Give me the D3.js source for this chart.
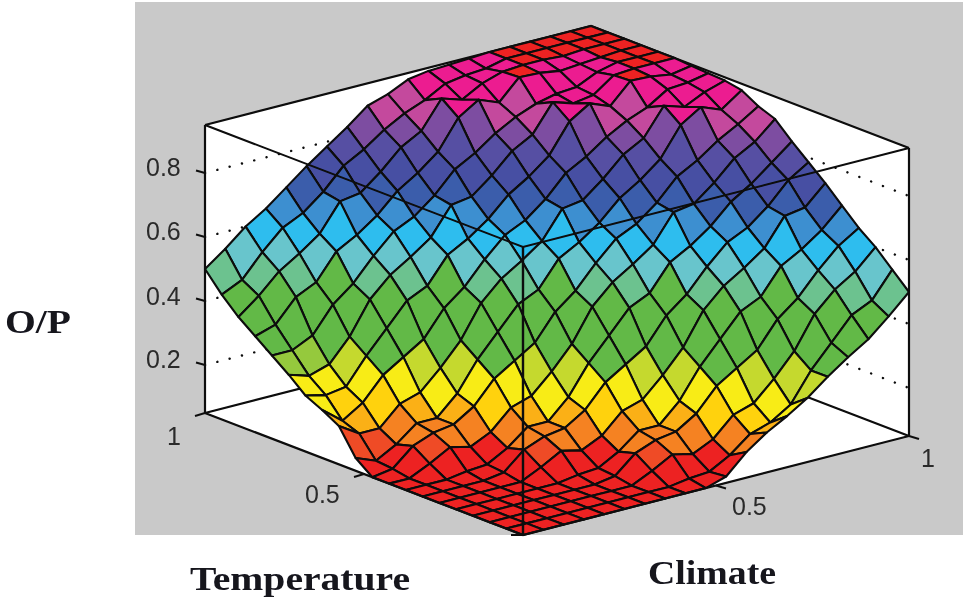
<!DOCTYPE html>
<html><head><meta charset="utf-8">
<script src="https://cdn.jsdelivr.net/npm/d3@7"></script>
<style>html,body{margin:0;background:#fff}svg{display:block}</style></head>
<body><svg id="c" width="965" height="599"><defs><filter id="soft" x="0" y="0" width="100%" height="100%"><feGaussianBlur stdDeviation="0.4"/></filter></defs></svg>
<script>
const gridCount = 20;
const zTicks = [0.2, 0.4, 0.6, 0.8];
const tTicks = [0.5, 1];
const cTicks = [0.5, 1];
const bandLimits = [.105,.125,.15,.18,.195,.245,.285,.30,.48,.525,.575,.615,.665,.71,.76,.81,.85,.86,.895,.9465];
const bandColors = ["#ed2024","#ef4b25","#f58220","#fbb017","#ffd20a","#f8ec17","#c5d92e","#95c93d","#62b947","#6cc28f","#67c5cc","#2fbdee","#3e8fd0","#3b5dab","#4650a3","#5750a3","#7d4ea1","#a04ea0","#c4489d","#ec1a90","#ed2024"];
const surfaceZ = [
[.05,.05,.05,.05,.05,.05,.05,.05,.05,.05,.07,.13,.175,.21,.25,.30,.345,.385,.44,.5],
[.05,.05,.05,.05,.05,.05,.05,.05,.05,.06,.065,.10,.15,.17,.21,.30,.37,.44,.47,.55],
[.05,.05,.05,.05,.05,.05,.05,.05,.08,.115,.10,.13,.19,.21,.27,.34,.44,.50,.54,.6],
[.05,.05,.05,.05,.05,.05,.05,.06,.115,.14,.15,.19,.26,.30,.34,.42,.47,.54,.60,.64],
[.05,.05,.05,.05,.05,.05,.06,.065,.10,.15,.15,.21,.30,.37,.44,.47,.55,.585,.63,.69],
[.05,.05,.05,.05,.05,.08,.115,.10,.13,.19,.21,.27,.34,.44,.50,.54,.585,.67,.68,.74],
[.05,.05,.05,.05,.06,.115,.14,.15,.19,.26,.30,.34,.42,.47,.54,.60,.63,.68,.745,.785],
[.05,.05,.05,.06,.065,.10,.15,.15,.21,.30,.37,.44,.47,.55,.585,.63,.69,.73,.78,.83],
[.05,.05,.08,.115,.10,.13,.19,.21,.27,.34,.44,.50,.54,.585,.67,.68,.73,.79,.825,.88],
[.05,.06,.115,.14,.15,.19,.26,.30,.34,.42,.47,.54,.60,.63,.68,.745,.78,.825,.86,.90],
[.09,.065,.10,.15,.15,.21,.30,.37,.44,.47,.55,.585,.63,.69,.73,.78,.87,.91,.885,.93],
[.17,.13,.13,.19,.21,.27,.34,.44,.50,.54,.585,.67,.68,.73,.79,.825,.91,.89,.92,.94],
[.20,.15,.19,.26,.30,.34,.42,.47,.54,.60,.63,.68,.745,.78,.825,.86,.885,.925,.93,.943],
[.225,.21,.22,.30,.37,.44,.47,.55,.585,.63,.69,.73,.78,.87,.91,.885,.948,.945,.935,.946],
[.27,.25,.27,.34,.44,.50,.54,.585,.67,.68,.73,.79,.825,.91,.89,.90,.945,.95,.95,.95],
[.31,.31,.34,.42,.47,.54,.60,.63,.68,.745,.78,.825,.86,.885,.90,.905,.935,.95,.95,.95],
[.35,.37,.44,.47,.55,.585,.63,.69,.73,.78,.87,.91,.885,.948,.945,.935,.94,.945,.95,.95],
[.39,.44,.50,.54,.585,.67,.68,.73,.79,.825,.91,.89,.925,.945,.95,.95,.945,.95,.95,.95],
[.44,.47,.54,.60,.63,.68,.745,.78,.825,.86,.885,.92,.93,.935,.95,.95,.95,.95,.95,.95],
[.5,.547,.6,.64,.69,.74,.785,.83,.88,.90,.93,.94,.943,.946,.95,.95,.95,.95,.95,.95]
];

const xT = d3.scaleLinear().domain([0,1]).range([0,-318]);
const xC = d3.scaleLinear().domain([0,1]).range([0,386]);
const yT = d3.scaleLinear().domain([0,1]).range([0,-122]);
const yC = d3.scaleLinear().domain([0,1]).range([0,-99]);
const yZ = d3.scaleLinear().domain([.05,.95]).range([0,-288]);
const colour = d3.scaleThreshold().domain(bandLimits).range(bandColors);
const origin = [523,535];
const P = (t,c,z)=>[origin[0]+xT(t)+xC(c), origin[1]+yT(t)+yC(c)+yZ(z)];
const idx = d3.scaleLinear().domain([0,gridCount-1]).range([0,1]);
const root = d3.select("#c").append("g").attr("filter","url(#soft)");
const line = d3.line();
const z0=.05,z1=.95;

root.append("rect").attr("width",965).attr("height",599).attr("fill","#fff");
root.append("rect").attr("x",135).attr("y",2).attr("width",828).attr("height",533).attr("fill","#c9c9c9");
root.append("path").attr("d",line([P(1,0,z1),P(1,1,z1),P(0,1,z1),P(0,1,z0),P(0,0,z0),P(1,0,z0)])+"Z").attr("fill","#fff");

const frame=(pts,w)=>root.append("path").attr("d",line(pts)).attr("fill","none").attr("stroke","#0a0a0a").attr("stroke-width",w||2.2);
frame([P(1,0,z1),P(1,1,z1),P(0,1,z1)]);
frame([P(1,0,z0),P(1,1,z0),P(0,1,z0)]);
root.append("g").selectAll("path").data(zTicks).join("path")
 .attr("d",z=>line([P(1,0,z),P(1,1,z),P(0,1,z)]))
 .attr("fill","none").attr("stroke","#111").attr("stroke-width",2.4).attr("stroke-linecap","round").attr("stroke-dasharray","0.1 12.6");

const cells=[];
for(let i=0;i<gridCount-1;i++)for(let j=0;j<gridCount-1;j++)cells.push({i,j});
cells.sort((a,b)=>(b.i+b.j)-(a.i+a.j)||Math.abs(b.i-b.j)-Math.abs(a.i-a.j));
root.append("g").selectAll("path").data(cells).join("path")
 .attr("d",({i,j})=>line([[i,j],[i+1,j],[i+1,j+1],[i,j+1]].map(([a,b])=>P(idx(a),idx(b),surfaceZ[a][b])))+"Z")
 .attr("fill",({i,j})=>colour(d3.mean([surfaceZ[i][j],surfaceZ[i+1][j],surfaceZ[i][j+1],surfaceZ[i+1][j+1]])))
 .attr("stroke","#0a0a0a").attr("stroke-width",2.1).attr("stroke-linejoin","round");

frame([P(1,0,z1),P(0,0,z1),P(0,1,z1)],2);
frame([P(0,0,z1),P(0,0,z0)],2.4);
frame([P(1,0,z1),P(1,0,z0),P(0,0,z0),P(0,1,z0),P(0,1,z1)]);

const tick=(a,b)=>root.append("path").attr("d",line([a,[a[0]+b[0],a[1]+b[1]]])).attr("stroke","#111").attr("stroke-width",2);
zTicks.forEach(z=>tick(P(1,0,z),[-9,-2.5]));
tTicks.forEach(t=>tick(P(t,0,z0),[-10,3]));
cTicks.forEach(c=>tick(P(0,c,z0),[10,3]));
tick(P(0,0,z0),[-12,0]);

const label=(s,x,y)=>root.append("text").attr("x",x).attr("y",y).attr("font-family","'Liberation Sans',Arial,sans-serif").attr("font-size",25).attr("fill","#2a2a2a").text(s);
const zPos=[368,305,240,176];
zTicks.forEach((z,n)=>label(d3.format(".1f")(z),146,zPos[n]));
label(d3.format(".1f")(tTicks[0]),305,503);
label(d3.format("d")(tTicks[1]),167,445);
label(d3.format(".1f")(cTicks[0]),732,515);
label(d3.format("d")(cTicks[1]),921,467);

const title=(s,x,y,w)=>root.append("text").attr("x",x).attr("y",y).attr("font-family","'Liberation Serif',serif").attr("font-weight","bold").attr("font-size",34).attr("fill","#14141e").attr("textLength",w).attr("lengthAdjust","spacingAndGlyphs").text(s);
title("O/P",5,333,66);
title("Temperature",190,590,220);
title("Climate",648,584,128);
</script></body></html>
